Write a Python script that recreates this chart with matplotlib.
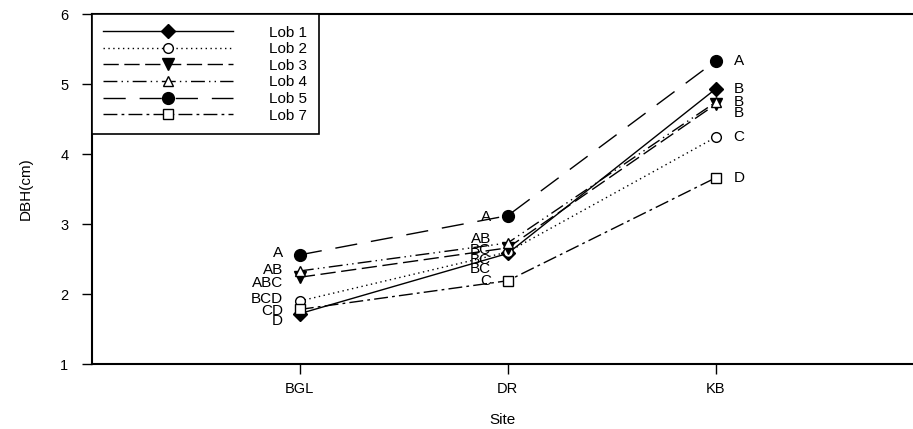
import matplotlib.pyplot as plt

plt.rcParams['font.family'] = ['Liberation Sans', 'DejaVu Sans']

sites = ['BGL', 'DR', 'KB']
lob1 = [1.72, 2.58, 4.93]
lob2 = [1.90, 2.60, 4.24]
lob3 = [2.24, 2.66, 4.71]
lob4 = [2.33, 2.73, 4.74]
lob5 = [2.56, 3.12, 5.33]
lob7 = [1.78, 2.19, 3.66]

# significance letters per site (same order as the series)
letters_bgl = ['D', 'BCD', 'ABC', 'AB', 'A', 'CD']
letters_dr = ['BC', 'BC', 'BC', 'AB', 'A', 'C']
letters_kb = ['B', 'C', 'B', 'B', 'A', 'D']

series = [
    ('Lob 1', lob1, dict(ls='-', marker='D', mfc='black', ms=7)),
    ('Lob 2', lob2, dict(ls=(0, (1, 2.5)), marker='o', mfc='white', ms=7)),
    ('Lob 3', lob3, dict(ls=(0, (11, 4)), marker='v', mfc='black', ms=8)),
    ('Lob 4', lob4, dict(ls=(0, (10, 3, 1, 3, 1, 3)), marker='^', mfc='white', ms=7)),
    ('Lob 5', lob5, dict(ls=(0, (16, 10)), marker='o', mfc='black', ms=8.5)),
    ('Lob 7', lob7, dict(ls=(0, (10, 3, 2, 3)), marker='s', mfc='white', ms=6.5)),
]

fig = plt.figure(figsize=(9.13, 4.29), dpi=100)
ax = fig.add_axes([0.1008, 0.1515, 0.8992, 0.8155])

x = [1, 2, 3]
for name, vals, st in series:
    ax.plot(x, vals, color='black', lw=1, mec='black', label=name, **st)

# vertical nudges (points) so the letters do not overlap
dy_bgl = [-5, 1.5, -4, 1, 1, -1]
dy_dr = [-11.5, -6, -1.5, 3, -1, 0]
dy_kb = [0, 0, -6, 0, 0, 0]
for i, (name, vals, st) in enumerate(series):
    ax.annotate(letters_bgl[i], (1, vals[0]), xytext=(-12, dy_bgl[i]),
                textcoords='offset points', ha='right', va='center', fontsize=11)
    ax.annotate(letters_dr[i], (2, vals[1]), xytext=(-12, dy_dr[i]),
                textcoords='offset points', ha='right', va='center', fontsize=11)
    ax.annotate(letters_kb[i], (3, vals[2]), xytext=(13, dy_kb[i]),
                textcoords='offset points', ha='left', va='center', fontsize=11)

ax.set_xlim(0, 3.95)
ax.set_ylim(1, 6)
ax.set_xticks(x)
ax.set_xticklabels(sites)
ax.set_yticks([1, 2, 3, 4, 5, 6])
ax.tick_params(direction='out', length=7, width=1, labelsize=10.5)
ax.tick_params(axis='y', pad=10)
ax.tick_params(axis='x', pad=6)
ax.spines['right'].set_visible(False)
for s in ['left', 'top', 'bottom']:
    ax.spines[s].set_linewidth(1.5)

ax.set_xlabel('Site', fontsize=11, labelpad=12)
ax.set_ylabel('DBH(cm)', fontsize=11, labelpad=20)

leg = ax.legend(loc='upper left', bbox_to_anchor=(0, 1), borderaxespad=0,
                numpoints=1, handlelength=8.45, fontsize=11, fancybox=False,
                edgecolor='black', framealpha=1, labelspacing=0.17,
                borderpad=0.75, handletextpad=2.4)
leg.get_frame().set_linewidth(1.2)

fig.savefig('out.png', dpi=100)
